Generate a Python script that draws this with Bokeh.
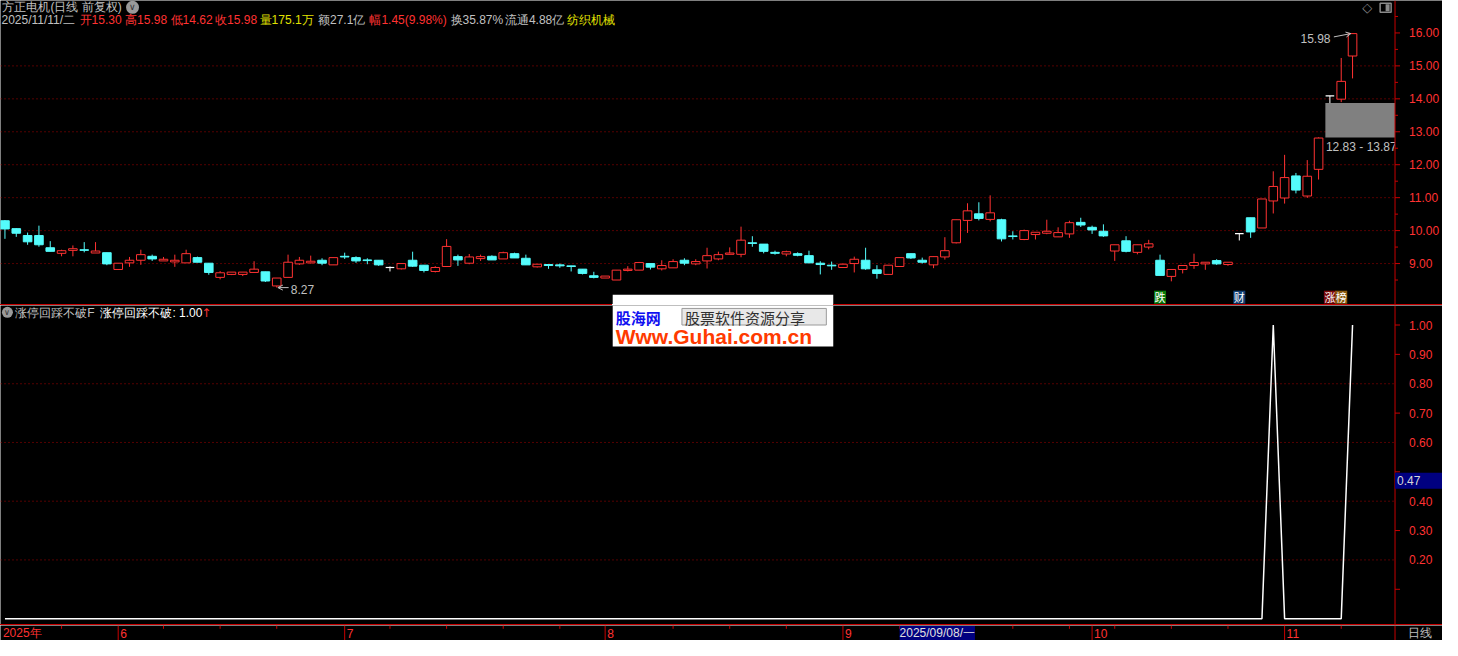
from bokeh.plotting import figure
from bokeh.models import (Range1d, Label, Div, ColumnDataSource, Arrow, OpenHead)
from bokeh.layouts import column
from bokeh.core.properties import value
from bokeh.embed import file_html
from bokeh.resources import INLINE

# ---------------- data ----------------
opens = [
    10.30, 10.06, 9.85, 9.85, 9.48, 9.31, 9.40, 9.42, 9.32, 9.33,
    8.82, 9.02, 9.10, 9.22, 9.08, 9.05, 9.02, 9.18, 9.01, 8.58,
    8.67, 8.67, 8.73, 8.75, 8.32, 8.58, 8.99, 9.02, 9.10, 8.96,
    9.22, 9.18, 9.11, 9.10, 8.88, 8.84, 9.10, 8.95, 8.76, 8.91,
    9.21, 9.01, 9.15, 9.22, 9.14, 9.30, 9.16, 8.90, 8.97, 8.96,
    8.93, 8.83, 8.63, 8.56, 8.50, 8.79, 8.80, 9.00, 8.84, 8.87,
    9.10, 8.99, 9.08, 9.14, 9.28, 9.28, 9.63, 9.59, 9.34, 9.29,
    9.30, 9.24, 9.01, 8.95, 8.88, 9.00, 9.10, 8.81, 8.67, 8.91,
    9.30, 9.10, 8.96, 9.20, 9.63, 10.31, 10.51, 10.34, 10.33, 9.84,
    9.73, 9.88, 9.92, 9.81, 9.90, 10.25, 10.10, 9.98, 9.38, 9.69,
    9.34, 9.50, 9.10, 8.61, 8.82, 8.94, 8.99, 9.09, 8.97, 9.91,
    10.39, 10.08, 10.90, 10.99, 11.66, 11.05, 11.86, 14.09, 13.99, 15.30]
highs = [
    10.32, 10.07, 9.94, 10.15, 9.68, 9.42, 9.55, 9.65, 9.65, 9.33,
    9.01, 9.20, 9.42, 9.27, 9.20, 9.27, 9.42, 9.21, 9.01, 8.77,
    8.74, 8.74, 9.07, 8.75, 8.56, 9.27, 9.20, 9.24, 9.16, 9.18,
    9.33, 9.22, 9.16, 9.10, 8.91, 9.00, 9.36, 8.95, 8.92, 9.74,
    9.27, 9.29, 9.27, 9.25, 9.36, 9.33, 9.27, 8.98, 8.98, 9.00,
    8.93, 8.83, 8.75, 8.62, 8.80, 8.92, 9.05, 9.00, 9.10, 9.13,
    9.16, 9.13, 9.48, 9.36, 9.49, 10.12, 9.83, 9.59, 9.39, 9.39,
    9.34, 9.39, 9.07, 9.06, 9.01, 9.21, 9.48, 8.95, 8.95, 9.18,
    9.30, 9.18, 9.21, 9.80, 10.33, 10.83, 10.86, 11.07, 10.36, 9.98,
    10.03, 9.95, 10.33, 10.10, 10.30, 10.39, 10.15, 10.19, 9.57, 9.83,
    9.57, 9.72, 9.27, 8.82, 8.94, 9.30, 9.04, 9.13, 9.04, 9.91,
    10.39, 10.96, 11.80, 12.30, 11.75, 12.14, 12.83, 14.09, 15.24, 15.98]
lows = [
    9.75, 9.81, 9.57, 9.51, 9.37, 9.22, 9.22, 9.34, 9.32, 8.95,
    8.82, 8.90, 8.96, 9.08, 9.08, 8.90, 9.02, 9.04, 8.66, 8.52,
    8.65, 8.62, 8.73, 8.44, 8.27, 8.58, 8.96, 9.00, 8.95, 8.96,
    9.14, 9.02, 8.98, 8.93, 8.76, 8.82, 8.90, 8.73, 8.73, 8.91,
    8.93, 8.98, 9.08, 9.11, 9.14, 9.17, 8.96, 8.88, 8.84, 8.87,
    8.76, 8.67, 8.55, 8.56, 8.50, 8.76, 8.80, 8.82, 8.79, 8.87,
    8.95, 8.95, 8.85, 9.10, 9.28, 9.19, 9.51, 9.31, 9.27, 9.22,
    9.22, 9.02, 8.67, 8.81, 8.88, 8.73, 8.81, 8.54, 8.67, 8.91,
    9.14, 9.00, 8.86, 9.12, 9.61, 9.93, 10.31, 10.28, 9.67, 9.73,
    9.71, 9.73, 9.89, 9.81, 9.78, 10.11, 9.90, 9.81, 9.08, 9.34,
    9.28, 9.43, 8.64, 8.46, 8.70, 8.84, 8.81, 8.96, 8.93, 9.70,
    9.78, 10.08, 10.52, 10.82, 11.13, 10.99, 11.55, 13.87, 13.90, 14.62]
closes = [
    10.05, 9.92, 9.66, 9.57, 9.37, 9.39, 9.45, 9.40, 9.38, 8.99,
    9.01, 9.10, 9.27, 9.14, 9.13, 9.10, 9.30, 9.04, 8.73, 8.72,
    8.74, 8.74, 8.83, 8.47, 8.56, 9.04, 9.10, 9.07, 9.01, 9.18,
    9.20, 9.08, 9.09, 8.96, 8.88, 9.00, 8.92, 8.79, 8.88, 9.52,
    9.11, 9.20, 9.21, 9.11, 9.33, 9.17, 8.96, 8.98, 8.94, 8.93,
    8.91, 8.70, 8.58, 8.62, 8.80, 8.83, 9.03, 8.89, 8.94, 9.06,
    9.01, 9.06, 9.24, 9.27, 9.32, 9.71, 9.61, 9.37, 9.31, 9.36,
    9.25, 9.02, 8.97, 8.93, 8.98, 9.13, 8.84, 8.70, 8.95, 9.18,
    9.17, 9.04, 9.21, 9.39, 10.33, 10.60, 10.37, 10.54, 9.75, 9.82,
    10.00, 9.95, 9.98, 9.94, 10.24, 10.17, 10.02, 9.84, 9.57, 9.37,
    9.57, 9.60, 8.64, 8.82, 8.94, 9.03, 9.04, 8.99, 9.04, 9.91,
    9.96, 10.96, 11.34, 11.61, 11.23, 11.65, 12.81, 14.09, 14.53, 15.98]
signal = [
    0, 0, 0, 0, 0, 0, 0, 0, 0, 0, 0, 0, 0, 0, 0, 0, 0, 0, 0, 0,
    0, 0, 0, 0, 0, 0, 0, 0, 0, 0, 0, 0, 0, 0, 0, 0, 0, 0, 0, 0,
    0, 0, 0, 0, 0, 0, 0, 0, 0, 0, 0, 0, 0, 0, 0, 0, 0, 0, 0, 0,
    0, 0, 0, 0, 0, 0, 0, 0, 0, 0, 0, 0, 0, 0, 0, 0, 0, 0, 0, 0,
    0, 0, 0, 0, 0, 0, 0, 0, 0, 0, 0, 0, 0, 0, 0, 0, 0, 0, 0, 0,
    0, 0, 0, 0, 0, 0, 0, 0, 0, 0, 0, 0, 1, 0, 0, 0, 0, 0, 0, 1]

month_idx = [0, 10, 30, 53, 74, 96, 113]
month_labels = ["2025年", "6", "7", "8", "9", "10", "11"]
week_idx = [5, 14, 19, 24, 34, 39, 44, 49, 59, 64, 69, 79, 84, 89, 94, 98, 103, 108, 118]
price_ticks = [9, 10, 11, 12, 13, 14, 15, 16]
price_minor = [8.5, 9.5, 10.5, 11.5, 12.5, 13.5, 14.5, 15.5, 16.5]
price_grid = [9, 10, 11, 12, 13, 14, 15]
ind_ticks = [0.2, 0.3, 0.4, 0.6, 0.7, 0.8, 0.9, 1.0]
ind_tick_marks = [0.1, 0.3, 0.5, 0.7, 0.9, 1.0]
ind_grid = [0.2, 0.4, 0.6, 0.8]
marker_idx = [102, 109, 117, 118]
marker_text = ["跌", "财", "涨", "榜"]
marker_bg = ["#0a7a0a", "#123f73", "#7a0a0a", "#8a5a10"]
gap_low, gap_high, gap_idx = 12.83, 13.87, 117
cursor_idx, cursor_value, cursor_date = 79, 0.47, "2025/09/08/一"
low_mark_idx = 24

header1 = "方正电机(日线 前复权)"
header2_text = ["2025/11/11/二", "开15.30", "高15.98", "低14.62", "收15.98", "量175.1万",
                "额27.1亿", "幅1.45(9.98%)", "换35.87%", "流通4.88亿", "纺织机械"]
header2_pos = [1, 80, 126, 172, 217, 262, 321, 373, 455, 510, 573]
indicator_name = "涨停回踩不破F"
indicator_value = "涨停回踩不破: 1.00"
period_label = "日线"

# ---------------- styling ----------------
RED = "#ff3232"
CYAN = "#54fcfc"
WHITE = "#ffffff"
GRAY = "#c0c0c0"
YELLOW = "#e0e000"
LINE_RED = "#c80000"
GRID_RED = "#a80000"
FONT = "Liberation Sans"
CJK = "Noto Sans CJK SC"

W = 1442
H1, H2, H3 = 304, 319, 15
SX = W / 1458.0

def X(rx):
    return (rx - 4.5) / 11.45

def P(ry):
    return 16.0 - (ry - 33.3) / 33.81

def V(ry):
    return (634.0 - ry) / 301.0

x_range = Range1d(X(0), X(1458))
PX = (X(1458) - X(0)) / W          # data units per screen pixel (x)
AX = X(1410)                        # position of the price/indicator axis line


def make_fig(h, yr):
    f = figure(width=W, height=h, x_range=x_range, y_range=yr, output_backend="svg",
               toolbar_location=None, title=None, x_axis_location=None,
               y_axis_location=None, min_border=0,
               background_fill_color="black", border_fill_color="black",
               outline_line_color=None, margin=(0, 0, 0, 0))
    f.grid.visible = False
    return f


def draw_axis(f, y0, y1, ticks, tick_marks, minor_marks, labels):
    f.segment(x0=[AX], y0=[y0], x1=[AX], y1=[y1], line_color=LINE_RED, line_width=1)
    if tick_marks:
        f.segment(x0=[AX] * len(tick_marks), y0=tick_marks,
                  x1=[AX + 5 * PX] * len(tick_marks), y1=tick_marks,
                  line_color=LINE_RED, line_width=1)
    if minor_marks:
        f.segment(x0=[AX] * len(minor_marks), y0=minor_marks,
                  x1=[AX + 3 * PX] * len(minor_marks), y1=minor_marks,
                  line_color=LINE_RED, line_width=1)
    if ticks:
        f.text(x=[AX] * len(ticks), y=ticks, text=labels, x_offset=14, text_color=RED,
               text_font=value(FONT), text_font_size="12px", text_baseline="middle")


def draw_grid(f, levels):
    n = len(levels)
    f.segment(x0=[X(0)] * n, y0=levels, x1=[AX] * n, y1=levels,
              line_color=GRID_RED, line_dash="1 3", line_width=1)

# ---------------- top panel: candles ----------------
p1 = make_fig(H1, Range1d(P(312), P(0)))
draw_grid(p1, price_grid)

idx = list(range(len(opens)))
# gap box
p1.quad(left=[gap_idx - 0.4], right=[AX], bottom=[gap_low], top=[gap_high],
        fill_color="#808080", line_color=None)
p1.text(x=[gap_idx - 0.35], y=[gap_low], text=["%.2f - %.2f" % (gap_low, gap_high)],
        text_color=GRAY, text_font=value(FONT), text_font_size="12px",
        text_baseline="top", y_offset=3)
# the price-axis strip hides whatever runs past the axis line
p1.quad(left=[AX], right=[X(1458)], bottom=[P(312)], top=[gap_low],
        fill_color="black", line_color=None)
draw_axis(p1, P(312), P(0), price_ticks, price_ticks, price_minor,
          ["%.2f" % t for t in price_ticks])

wick_col = [RED if c > o else (CYAN if c < o else WHITE) for o, c in zip(opens, closes)]
src = ColumnDataSource(dict(x=idx, h=highs, l=lows, wc=wick_col))
p1.segment(x0="x", y0="h", x1="x", y1="l", line_color="wc", line_width=1, source=src)

up = [i for i in idx if closes[i] > opens[i]]
dn = [i for i in idx if closes[i] < opens[i]]
fl = [i for i in idx if closes[i] == opens[i]]
BW = 0.76
p1.vbar(x=up, width=BW, top=[closes[i] for i in up], bottom=[opens[i] for i in up],
        fill_color="black", line_color=RED, line_width=1)
p1.vbar(x=dn, width=BW, top=[opens[i] for i in dn], bottom=[closes[i] for i in dn],
        fill_color=CYAN, line_color=CYAN, line_width=1)
p1.segment(x0=[i - BW / 2 for i in fl], y0=[opens[i] for i in fl],
           x1=[i + BW / 2 for i in fl], y1=[opens[i] for i in fl],
           line_color=WHITE, line_width=1.2)

# high / low annotations
last = len(opens) - 1
p1.text(x=[last], y=[highs[last]], text=["%.2f" % highs[last]], text_color=GRAY,
        text_font=value(FONT), text_font_size="12px", text_align="right",
        text_baseline="middle", x_offset=-22, y_offset=5)
p1.add_layout(Arrow(end=OpenHead(size=5, line_color=GRAY, line_width=1),
                    x_start=last - 1.65, y_start=highs[last] - 0.1,
                    x_end=last - 0.15, y_end=highs[last],
                    line_color=GRAY, line_width=1))
p1.text(x=[low_mark_idx], y=[lows[low_mark_idx]], text=["%.2f" % lows[low_mark_idx]],
        text_color=GRAY, text_font=value(FONT), text_font_size="12px",
        text_align="left", text_baseline="middle", x_offset=14, y_offset=2)
p1.add_layout(Arrow(end=OpenHead(size=5, line_color=GRAY, line_width=1),
                    x_start=low_mark_idx + 1.05, y_start=lows[low_mark_idx],
                    x_end=low_mark_idx + 0.1, y_end=lows[low_mark_idx],
                    line_color=GRAY, line_width=1))

# event markers
p1.rect(x=marker_idx, y=[P(304.5)] * len(marker_idx), width=12, height=13,
        width_units="screen", height_units="screen", fill_color=marker_bg, line_color=None)
p1.text(x=marker_idx, y=[P(304.5)] * len(marker_idx), text=marker_text, text_color=WHITE,
        text_font=value(CJK), text_font_size="11px",
        text_align="center", text_baseline="middle")

# watermark (upper strip)
p1.quad(left=[X(619)], right=[X(842)], bottom=[P(314)], top=[P(302)],
        fill_color="white", line_color=None)

# header
p1.text(x=[X(2)], y=[P(7)], text=[header1], text_color=GRAY, text_font=value(FONT),
        text_font_size="12px", text_baseline="middle")
p1.scatter(x=[X(133.5)], y=[P(7)], size=13, marker="circle", fill_color="#9a9a9a",
           line_color=None)
p1.text(x=[X(133.5)], y=[P(7)], text=["∨"], text_color="#303030", text_font=value(FONT),
        text_font_size="9px", text_align="center", text_baseline="middle")
h2_col = [GRAY, RED, RED, RED, RED, YELLOW, GRAY, RED, GRAY, GRAY, YELLOW]
h2src = ColumnDataSource(dict(x=[X(v) for v in header2_pos], y=[P(20.5)] * len(header2_pos),
                              t=header2_text, c=h2_col))
p1.text(x="x", y="y", text="t", text_color="c", text_font=value(FONT),
        text_font_size="12px", text_baseline="middle", source=h2src)
# window icons
p1.text(x=[X(1382)], y=[P(7)], text=["◇"], text_color="#8a8a8a", text_font=value("DejaVu Sans"),
        text_font_size="13px", text_align="center", text_baseline="middle")
p1.rect(x=[X(1400.5)], y=[P(7.5)], width=11, height=9, width_units="screen",
        height_units="screen", fill_color=None, line_color="#8a8a8a", line_width=1.5)
p1.rect(x=[X(1402.5)], y=[P(7.5)], width=4, height=7, width_units="screen",
        height_units="screen", fill_color="#8a8a8a", line_color=None)

# ---------------- indicator panel ----------------
p2 = make_fig(H2, Range1d(V(640), V(313)))
draw_grid(p2, ind_grid)
p2.line(x=idx, y=signal, line_color=WHITE, line_width=1.5)
draw_axis(p2, V(640), V(313), ind_ticks, ind_tick_marks, [],
          ["%.2f" % t for t in ind_ticks])
p2.rect(x=[AX + 24 * PX], y=[cursor_value], width=48, width_units="screen", height=16,
        height_units="screen", fill_color="#000080", line_color=None)
p2.text(x=[AX], y=[cursor_value], text=["%.2f" % cursor_value], x_offset=2,
        text_color="#d8d8d8", text_font=value(FONT), text_font_size="12px",
        text_baseline="middle")

p2.scatter(x=[X(7)], y=[V(320)], size=11, marker="circle", fill_color="#9a9a9a",
           line_color=None)
p2.text(x=[X(7)], y=[V(320)], text=["∨"], text_color="#303030", text_font=value(FONT),
        text_font_size="8px", text_align="center", text_baseline="middle")
p2.text(x=[X(15), X(101)], y=[V(321), V(321)], text=[indicator_name, indicator_value],
        text_color=[GRAY, WHITE], text_font=value(FONT), text_font_size="12px",
        text_baseline="middle")
p2.text(x=[X(203)], y=[V(321)], text=["↑"], text_color=RED, text_font=value("DejaVu Sans"),
        text_font_size="12px", text_baseline="middle")

# watermark
p2.quad(left=[X(619)], right=[X(842)], bottom=[V(355)], top=[V(300)],
        fill_color="white", line_color=None)
p2.quad(left=[X(689)], right=[X(835)], bottom=[V(333)], top=[V(316)],
        fill_color="#e8e8e8", line_color="#9a9a9a", line_width=1)
p2.text(x=[X(622)], y=[V(325)], text=["股海网"], text_color="#1010f0",
        text_font=value(CJK), text_font_size="15px", text_font_style="bold",
        text_baseline="middle")
p2.text(x=[X(692)], y=[V(325)], text=["股票软件资源分享"], text_color="#303030",
        text_font=value(CJK), text_font_size="15px", text_baseline="middle")
p2.text(x=[X(622)], y=[V(345)], text=["Www.Guhai.com.cn"], text_color="#ff3a00",
        text_font=value(FONT), text_font_size="21px", text_font_style="bold",
        text_baseline="middle")

# ---------------- date strip ----------------
p3 = make_fig(H3, Range1d(0, 1))
p3.segment(x0=[AX], y0=[0], x1=[AX], y1=[1], line_color=LINE_RED, line_width=1)
p3.text(x=[AX], y=[0.5], text=[period_label], x_offset=13, text_color=GRAY,
        text_font=value(FONT), text_font_size="12px", text_baseline="middle")
p3.segment(x0=month_idx[1:], y0=[0] * 6, x1=month_idx[1:], y1=[1] * 6,
           line_color=LINE_RED, line_width=1)
p3.segment(x0=week_idx, y0=[1] * len(week_idx), x1=week_idx, y1=[0.78] * len(week_idx),
           line_color=LINE_RED, line_width=1)
msrc = ColumnDataSource(dict(x=month_idx, y=[0.5] * len(month_idx), t=month_labels,
                             xo=[-2] + [2] * (len(month_idx) - 1)))
p3.text(x="x", y="y", text="t", x_offset="xo", text_color=RED, text_font=value(FONT),
        text_font_size="12px", text_baseline="middle", source=msrc)
p3.add_layout(Label(x=cursor_idx, y=0.5, text=cursor_date, text_color="#e0e0e0",
                    text_font=FONT, text_font_size="12px", text_baseline="middle",
                    background_fill_color="#000080"))

# ---------------- separators ----------------
wl, wr = int(round(619 * SX)), int(round(842 * SX))
div1 = Div(text="", width=W, height=1, margin=(0, 0, 0, 0),
           styles={"background": "linear-gradient(to right, %s 0px, %s %dpx, #ffffff %dpx, "
                                 "#ffffff %dpx, %s %dpx, %s 100%%)"
                                 % (LINE_RED, LINE_RED, wl, wl, wr, LINE_RED, wr, LINE_RED)})
div2 = Div(text="", width=W, height=1, margin=(0, 0, 0, 0),
           styles={"background": LINE_RED})

layout = column(p1, div1, p2, div2, p3, spacing=0)
html = file_html(layout, INLINE, title="方正电机")
html = html.replace("<body>", '<body style="background-color:#000000;">', 1)
open("out.html", "w").write(html)
